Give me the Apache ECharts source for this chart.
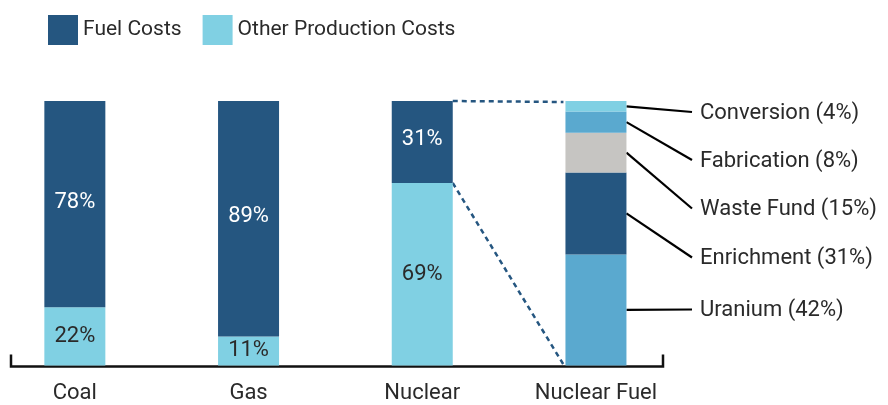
<!DOCTYPE html>
<html>
<head>
<meta charset="utf-8">
<script src="https://cdn.jsdelivr.net/npm/echarts@6/dist/echarts.min.js"></script>
<style>
  html, body { margin: 0; padding: 0; background: #fff; }
  #chart { width: 888px; height: 405px; }
</style>
</head>
<body>
<div id="chart"></div>
<script>
// categories
var categories = ["Coal", "Gas", "Nuclear", "Nuclear Fuel"];
// share of production cost (%)
var fuelCosts = [78, 89, 31, "-"];
var otherCosts = [22, 11, 69, "-"];
// nuclear fuel breakdown (%), bottom to top
var uranium = ["-", "-", "-", 42];
var enrichment = ["-", "-", "-", 31];
var wasteFund = ["-", "-", "-", 15];
var fabrication = ["-", "-", "-", 8];
var conversion = ["-", "-", "-", 4];

var DARK = "#255680";
var LIGHT = "#80d0e3";
var MID = "#5aa9cf";
var GREY = "#c6c5c2";
var TEXT = "#2a2a2a";
var FONT = "Roboto, 'DejaVu Sans', sans-serif";
var BAR_W = 61;

var chart = echarts.init(document.getElementById("chart"));

// callouts, top to bottom, and where their leader lines end
var calloutOrder = ["Conversion", "Fabrication", "Waste Fund", "Enrichment", "Uranium"];
var calloutY = [112, 160, 208.5, 257.5, 309.5];

function calloutLayout(params) {
  var name = chart.getModel().getSeriesByIndex(params.seriesIndex).name;
  var k = calloutOrder.indexOf(name);
  return { x: 700, y: calloutY[k] + 1, align: "left", verticalAlign: "middle" };
}

function fuelPart(name, data, color) {
  return {
    name: name,
    type: "bar",
    stack: "total",
    barWidth: BAR_W,
    data: data,
    itemStyle: { color: color },
    label: {
      show: true,
      formatter: "{a} ({c}%)",
      fontSize: 22,
      fontFamily: FONT,
      color: TEXT
    },
    labelLayout: calloutLayout,
    emphasis: { disabled: true }
  };
}

var option = {
  animation: false,
  textStyle: { fontFamily: FONT },
  legend: {
    data: ["Fuel Costs", "Other Production Costs"],
    left: 48,
    top: 15,
    padding: 0,
    icon: "rect",
    itemWidth: 30,
    itemHeight: 30,
    itemGap: 21,
    textStyle: { fontSize: 21, color: TEXT, fontFamily: FONT }
  },
  grid: { left: -12, width: 694.8, top: 101, bottom: 39.5, outerBoundsMode: "none" },
  xAxis: {
    type: "category",
    data: categories,
    axisLine: { show: false },
    axisTick: { show: false },
    axisLabel: { fontSize: 22, color: TEXT, margin: 17, fontFamily: FONT }
  },
  yAxis: {
    type: "value",
    min: 0,
    max: 100,
    show: false
  },
  series: [
    {
      name: "Other Production Costs",
      type: "bar",
      stack: "total",
      barWidth: BAR_W,
      data: otherCosts,
      itemStyle: { color: LIGHT },
      label: { show: true, position: "inside", formatter: "{c}%", fontSize: 22, color: TEXT, fontFamily: FONT },
      emphasis: { disabled: true }
    },
    {
      name: "Fuel Costs",
      type: "bar",
      stack: "total",
      barWidth: BAR_W,
      data: fuelCosts,
      itemStyle: { color: DARK },
      label: { show: true, position: "inside", formatter: "{c}%", fontSize: 22, color: "#fff", fontFamily: FONT, offset: [0, -2] },
      emphasis: { disabled: true }
    },
    fuelPart("Uranium", uranium, MID),
    fuelPart("Enrichment", enrichment, DARK),
    fuelPart("Waste Fund", wasteFund, GREY),
    fuelPart("Fabrication", fabrication, MID),
    fuelPart("Conversion", conversion, LIGHT)
  ]
};

chart.setOption(option);

// dashed zoom lines from the Nuclear bar to the Nuclear Fuel bar, leader lines and the bracket axis
var nucTop = chart.convertToPixel({ gridIndex: 0 }, ["Nuclear", 100]);
var nucSplit = chart.convertToPixel({ gridIndex: 0 }, ["Nuclear", otherCosts[2]]);
var fuelTop = chart.convertToPixel({ gridIndex: 0 }, ["Nuclear Fuel", 100]);
var fuelBase = chart.convertToPixel({ gridIndex: 0 }, ["Nuclear Fuel", 0]);
var x1 = nucTop[0] + BAR_W / 2;
var x2 = fuelTop[0] - BAR_W / 2 - 2;
var dash = { stroke: DARK, lineWidth: 2.5, lineDash: [5, 4] };
var baseY = fuelBase[1] + 1;

var graphics = [
  { type: "line", shape: { x1: x1, y1: nucTop[1], x2: x2, y2: fuelTop[1] + 1 }, style: dash },
  { type: "line", shape: { x1: x1, y1: nucSplit[1], x2: x2, y2: fuelBase[1] - 1 }, style: dash },
  {
    type: "polyline",
    shape: { points: [[11, baseY - 12], [11, baseY], [663, baseY], [663, baseY - 12]] },
    style: { stroke: "#111", lineWidth: 2.5, fill: null }
  }
];

// leader lines from the middle of each nuclear fuel segment to its callout
var parts = [uranium[3], enrichment[3], wasteFund[3], fabrication[3], conversion[3]];
var partNames = ["Uranium", "Enrichment", "Waste Fund", "Fabrication", "Conversion"];
var cum = 0;
parts.forEach(function (v, i) {
  var mid = chart.convertToPixel({ gridIndex: 0 }, ["Nuclear Fuel", cum + v / 2]);
  cum += v;
  var k = calloutOrder.indexOf(partNames[i]);
  graphics.push({
    type: "line",
    shape: { x1: mid[0] + BAR_W / 2, y1: mid[1], x2: 692, y2: calloutY[k] },
    style: { stroke: "#000", lineWidth: 2.2 }
  });
});

chart.setOption({ graphic: graphics });
</script>
</body>
</html>
